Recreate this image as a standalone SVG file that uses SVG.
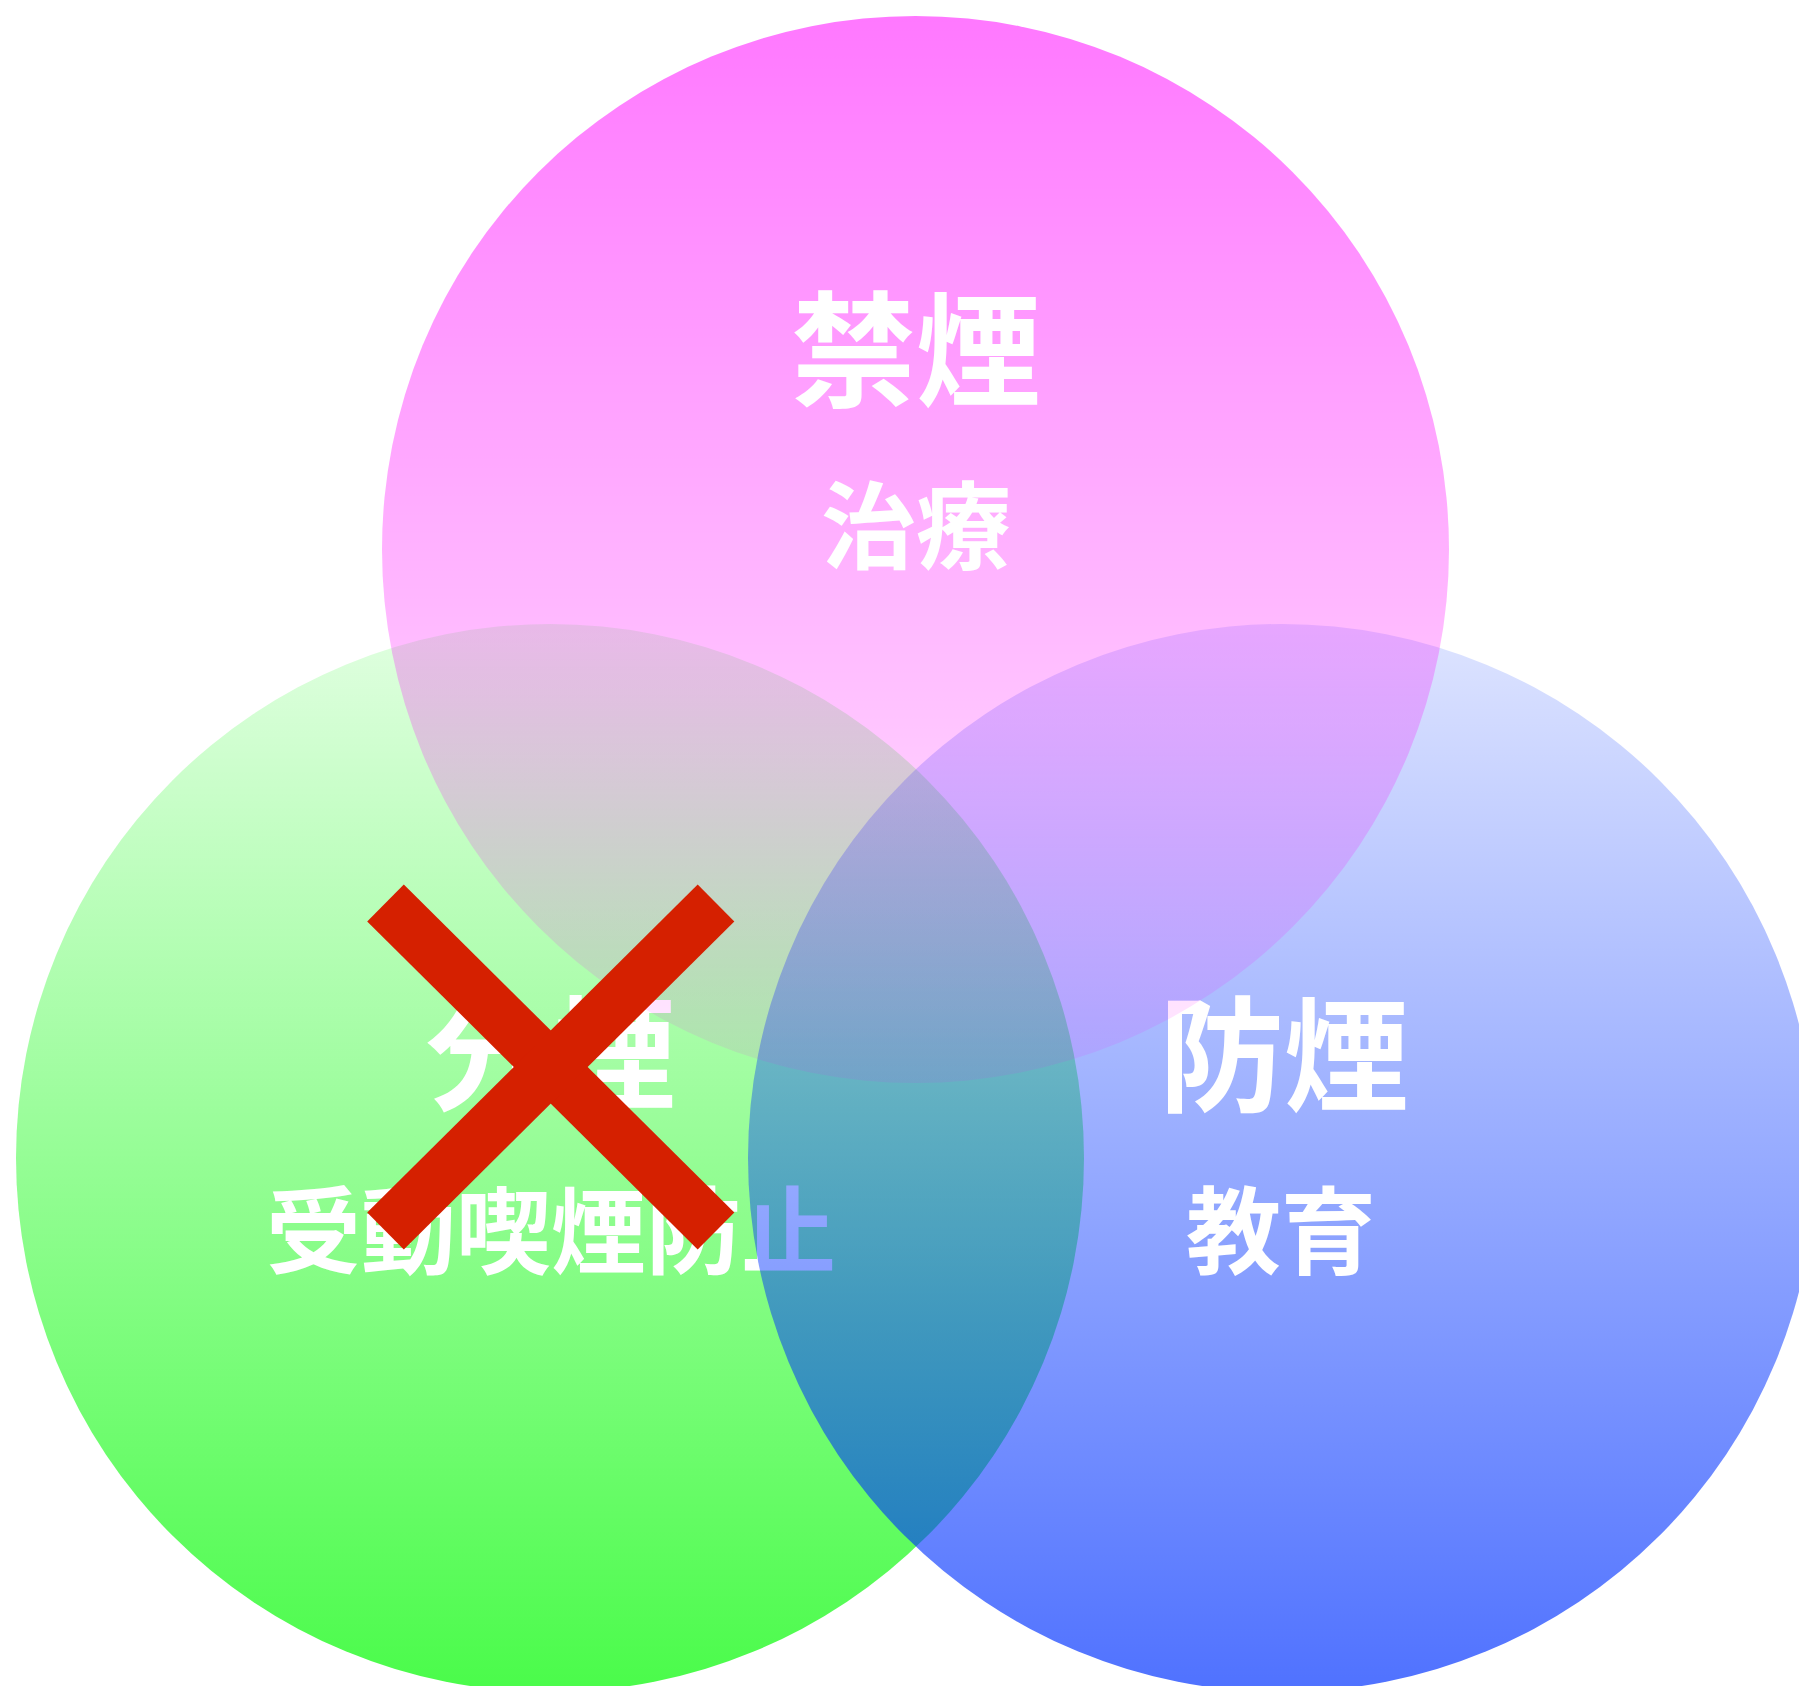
<svg xmlns="http://www.w3.org/2000/svg" width="1799" height="1686" viewBox="0 0 1799 1686">
<defs>
<linearGradient id="gGreen" x1="0" y1="0" x2="0" y2="1">
<stop offset="0" stop-color="#00FA00" stop-opacity="0.12"/>
<stop offset="1" stop-color="#00FA00" stop-opacity="0.71"/>
</linearGradient>
<linearGradient id="gBlue" x1="0" y1="0" x2="0" y2="1">
<stop offset="0" stop-color="#0032FF" stop-opacity="0.13"/>
<stop offset="1" stop-color="#0032FF" stop-opacity="0.69"/>
</linearGradient>
<linearGradient id="gPink" x1="0" y1="0" x2="0" y2="1">
<stop offset="0" stop-color="#FF00FF" stop-opacity="0.53"/>
<stop offset="1" stop-color="#FF00FF" stop-opacity="0.08"/>
</linearGradient>
<style>
.t{font-family:"Noto Sans CJK JP","Noto Sans CJK SC",sans-serif;font-weight:700;fill:#FFFFFF;text-anchor:middle}
.big{font-size:125px}
.sm{font-size:95px}
.x{stroke:#D52000;stroke-width:52;stroke-linecap:butt;fill:none}
</style>
</defs>
<rect width="1799" height="1686" fill="#FFFFFF"/>
<g id="node-bunen">
<circle cx="550" cy="1158" r="534" fill="url(#gGreen)"/>
<text class="t big" x="551" y="1100">分煙</text>
<text class="t sm" x="551" y="1267">受動喫煙防止</text>
</g>
<g id="node-boen">
<circle cx="1282" cy="1158" r="534" fill="url(#gBlue)"/>
<text class="t big" x="1284" y="1102">防煙</text>
<text class="t sm" x="1281" y="1267">教育</text>
</g>
<g id="node-kinen">
<circle cx="915.5" cy="549.5" r="533.5" fill="url(#gPink)"/>
<text class="t big" x="916" y="397">禁煙</text>
<text class="t sm" x="916" y="562">治療</text>
</g>
<g id="connectors">
<line class="x" x1="385.5" y1="903" x2="716" y2="1231"/>
<line class="x" x1="716" y1="903" x2="385.5" y2="1231"/>
</g>
</svg>
